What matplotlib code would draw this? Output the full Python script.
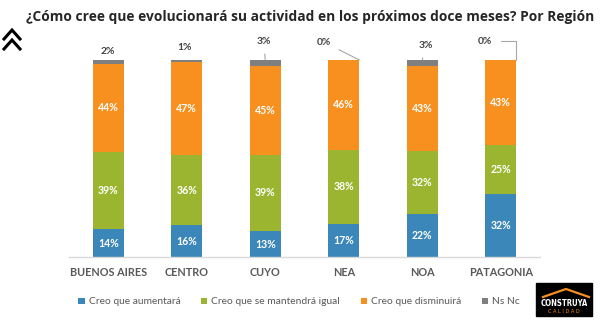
import numpy as np
import matplotlib.pyplot as plt
from matplotlib.patches import Rectangle

# data
regions = ['BUENOS AIRES', 'CENTRO', 'CUYO', 'NEA', 'NOA', 'PATAGONIA']
aumentara = [14, 16, 13, 17, 22, 32]
mantendra = [39, 36, 39, 38, 32, 25]
disminuira = [44, 47, 45, 46, 43, 43]
nsnc = [2, 1, 3, 0, 3, 0]
series_names = ['Creo que aumentará', 'Creo que se mantendrá igual',
                'Creo que disminuirá', 'Ns Nc']
colors = ['#3b87b9', '#9cb531', '#f7901e', '#7f7f7f']

W, H = 602, 325
fig = plt.figure(figsize=(W / 100, H / 100), dpi=100)
fig.patch.set_facecolor('white')

# axes in pixel coords: baseline y=257, 100% at y=60, x from 69 to 540
ax = fig.add_axes([69 / W, (H - 257) / H, (540 - 69) / W, (257 - 60) / H])
ax.set_xlim(-0.5, 5.5)
ax.set_ylim(0, 100)
for s in ['top', 'right', 'left']:
    ax.spines[s].set_visible(False)
ax.spines['bottom'].set_color('#d9d9d9')
ax.spines['bottom'].set_linewidth(1)
ax.set_yticks([])
ax.tick_params(axis='x', length=0, pad=7)
x = np.arange(len(regions))
ax.set_xticks(x)
ax.set_xticklabels(regions, fontsize=7.8, fontweight='bold', color='#595959',
                   family='Lato')

# 100% stacked: normalize each column
data = np.array([aumentara, mantendra, disminuira, nsnc], dtype=float)
share = data / data.sum(axis=0) * 100
bottom = np.zeros(len(regions))
width = 0.4
for i in range(4):
    ax.bar(x, share[i], width, bottom=bottom, color=colors[i],
           label=series_names[i])
    if i < 3:
        for j in range(len(regions)):
            ax.text(x[j], bottom[j] + share[i][j] / 2, f'{int(data[i][j])}%',
                    ha='center', va='center', color='white', fontsize=7.6,
                    fontweight='bold', family='Lato')
    bottom += share[i]

# Ns Nc labels above the bars, some with leader lines
label_off = [(0, 4.5), (-0.03, 6.5), (-0.02, 9.5), (-0.25, 9), (0.04, 7.5), (-0.2, 9.5)]
lead = [False, False, True, True, True, True]
for j in range(len(regions)):
    dx, dy = label_off[j]
    top = 100
    kw = dict(ha='center', va='center', fontsize=7.4, fontweight='bold',
              color='#404040', family='Lato')
    if lead[j]:
        conn = 'arc3'
        pt = (x[j], top)
        if j == 3:
            pt = (x[j] + width / 2, top)
        elif j == 5:
            pt = (x[j] + width / 2 - 0.01, top)
            conn = 'angle,angleA=0,angleB=90,rad=0'
        ax.annotate(f'{nsnc[j]}%', xy=pt, xytext=(x[j] + dx, top + dy),
                    annotation_clip=False,
                    arrowprops=dict(arrowstyle='-', color='#a6a6a6', lw=0.8,
                                    shrinkA=4, shrinkB=0,
                                    connectionstyle=conn), **kw)
    else:
        ax.text(x[j] + dx, top + dy, f'{nsnc[j]}%', clip_on=False, **kw)

leg = ax.legend(loc='center', bbox_to_anchor=(299 / W, 1 - 302 / H),
                bbox_transform=fig.transFigure, ncol=4, frameon=False,
                handlelength=0.6, handleheight=0.6, handletextpad=0.4,
                columnspacing=2.0, prop={'family': 'Lato', 'size': 7.4})
for t in leg.get_texts():
    t.set_color('#595959')

# title
fig.text(310 / W, 1 - 17 / H,
         '¿Cómo cree que evolucionará su actividad en los próximos doce meses? Por Región',
         ha='center', va='center', fontsize=9.9, fontweight='bold',
         color='#262626', family='Open Sans')

# double chevron icon, top left
for yc in [30, 40]:
    fig.add_artist(plt.Line2D([4 / W, 12 / W, 20 / W],
                              [1 - (yc + 9) / H, 1 - yc / H, 1 - (yc + 9) / H],
                              color='black', lw=2.2, solid_joinstyle='miter'))

# logo, bottom right
fig.add_artist(Rectangle((536 / W, 1 - 316 / H), 56 / W, 33 / H,
                         transform=fig.transFigure, color='black'))
fig.add_artist(plt.Line2D([543 / W, 566 / W, 589 / W],
                          [1 - 297 / H, 1 - 289 / H, 1 - 297 / H],
                          color='#f7901e', lw=1.6))
fig.text(564 / W, 1 - 303 / H, 'CONSTRUYA', ha='center', va='center',
         color='white', fontsize=5.6, fontweight='bold', family='DejaVu Sans',
         stretch='condensed')
fig.text(564 / W, 1 - 311.5 / H, 'C A L I D A D', ha='center', va='center',
         color='#f7901e', fontsize=3.6, family='DejaVu Sans')

fig.savefig('out.png', dpi=100, facecolor='white')
